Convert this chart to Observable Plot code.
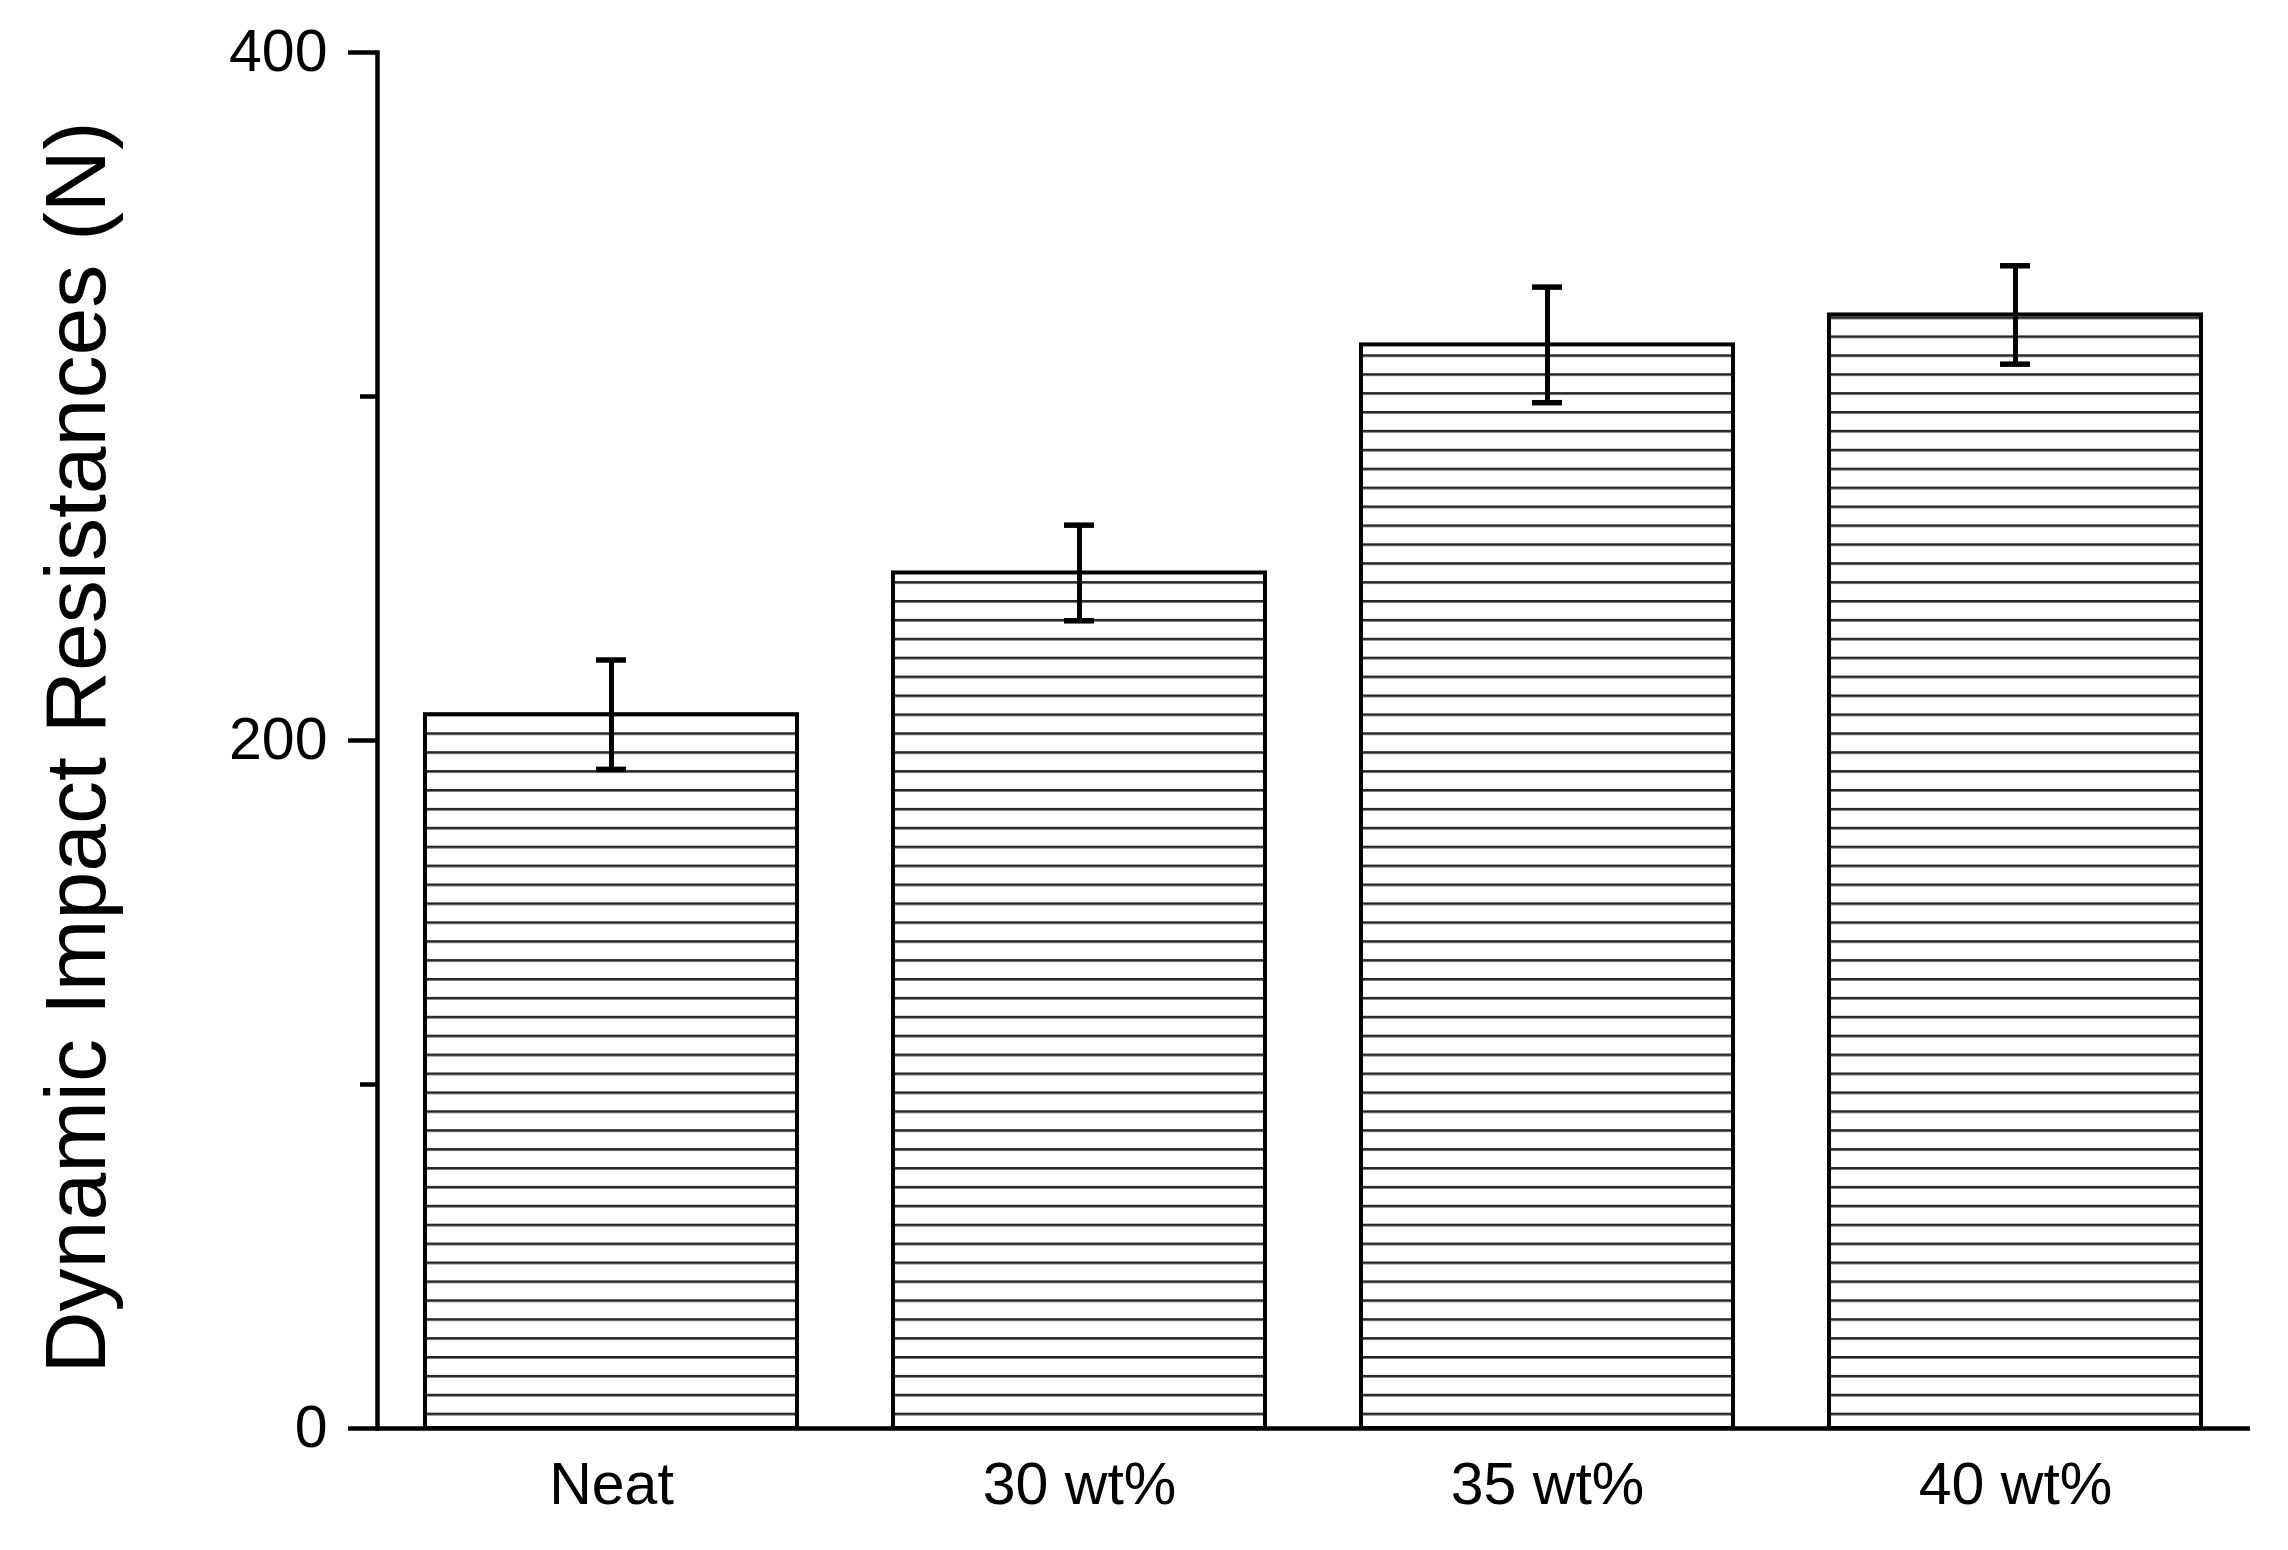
<!DOCTYPE html>
<html>
<head>
<meta charset="utf-8">
<script src="https://cdn.jsdelivr.net/npm/d3@7"></script>
<script src="https://cdn.jsdelivr.net/npm/@observablehq/plot@0.6"></script>
<style>
  html, body { margin: 0; padding: 0; background: #fff; }
  #chart { width: 2288px; height: 1550px; }
</style>
</head>
<body>
<div id="chart"></div>
<script>
const categories = ["Neat", "30 wt%", "35 wt%", "40 wt%"];
const means = [207.5, 248.7, 315.0, 323.7];
const errors = [15.9, 13.9, 16.8, 14.3];
const yTicksMajor = [0, 200, 400];
const yTicksMinor = [100, 300];
const yLabel = "Dynamic Impact Resistances (N)";

const data = categories.map((c, i) => ({
  cat: c, mean: means[i], lo: means[i] - errors[i], hi: means[i] + errors[i]
}));

const font = "Liberation Sans, Arial, Helvetica, sans-serif";

const chart = Plot.plot({
  width: 2288,
  height: 1550,
  marginLeft: 377,
  marginRight: 38,
  marginTop: 52,
  marginBottom: 122,
  style: { fontFamily: font, color: "black", background: "white", overflow: "visible" },
  x: { domain: categories, paddingInner: 0.205, paddingOuter: 0.103, label: null },
  y: { domain: [0, 400], label: null },
  marks: [
    Plot.barY(data, { x: "cat", y: "mean", fill: "url(#hatch)", stroke: "black", strokeWidth: 4 }),
    Plot.ruleX(data, { x: "cat", y1: "lo", y2: "hi", stroke: "black", strokeWidth: 5 }),
    Plot.tickY(data, { x: "cat", y: "hi", insetLeft: 171, insetRight: 171, stroke: "black", strokeWidth: 5.5 }),
    Plot.tickY(data, { x: "cat", y: "lo", insetLeft: 171, insetRight: 171, stroke: "black", strokeWidth: 5.5 }),
    Plot.axisY(yTicksMajor, { tickSize: 29, tickPadding: 21, fontSize: 59, strokeWidth: 4.5, label: null }),
    Plot.axisY(yTicksMinor, { tickSize: 17, tickFormat: () => "", strokeWidth: 4.5, label: null }),
    Plot.axisX({ tickSize: 0, tickPadding: 34, fontSize: 59, label: null }),
    Plot.frame({ anchor: "left", stroke: "black", strokeWidth: 4.5 }),
    Plot.ruleY([0], { stroke: "black", strokeWidth: 4.5 }),
    Plot.text([yLabel], { text: d => d, frameAnchor: "left", rotate: -90, dx: -334, dy: 7,
      lineAnchor: "top", textAnchor: "middle", fontSize: 86, fill: "black" })
  ]
});

// hatch pattern (styling), anchored on the y scale baseline
const y0 = chart.scale("y").apply(0);
const spacing = 18.9;
const ns = "http://www.w3.org/2000/svg";
const defs = document.createElementNS(ns, "defs");
const pat = document.createElementNS(ns, "pattern");
pat.setAttribute("id", "hatch");
pat.setAttribute("patternUnits", "userSpaceOnUse");
pat.setAttribute("x", 0);
pat.setAttribute("y", y0 - 15.3);
pat.setAttribute("width", 40);
pat.setAttribute("height", spacing);
const bg = document.createElementNS(ns, "rect");
bg.setAttribute("width", 40); bg.setAttribute("height", spacing); bg.setAttribute("fill", "white");
const ln = document.createElementNS(ns, "rect");
ln.setAttribute("x", 0); ln.setAttribute("y", 0);
ln.setAttribute("width", 40); ln.setAttribute("height", 2.6);
ln.setAttribute("fill", "#262626");
pat.appendChild(bg); pat.appendChild(ln);
defs.appendChild(pat);
chart.insertBefore(defs, chart.firstChild);

document.getElementById("chart").appendChild(chart);
</script>
</body>
</html>
